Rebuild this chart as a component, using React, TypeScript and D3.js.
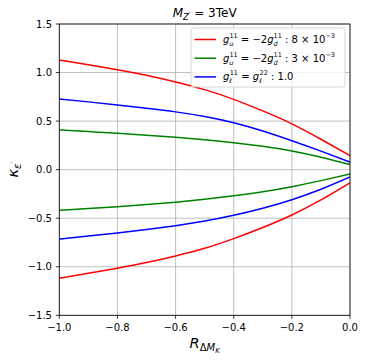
import React from "react";
import * as d3 from "d3";

// R_{ΔM_K} sample points
const rValues = [-1.0, -0.9, -0.8, -0.7, -0.6, -0.5, -0.4, -0.3, -0.2, -0.1, 0.0];

// kappa_eps', upper (+) and lower (-) branches
const redUpper = [1.13, 1.08, 1.03, 0.972, 0.903, 0.824, 0.724, 0.605, 0.472, 0.313, 0.145];
const redLower = [-1.118, -1.068, -1.015, -0.957, -0.889, -0.81, -0.71, -0.596, -0.467, -0.312, -0.136];
const greenUpper = [0.409, 0.392, 0.375, 0.355, 0.333, 0.308, 0.278, 0.24, 0.192, 0.128, 0.052];
const greenLower = [-0.418, -0.4, -0.381, -0.36, -0.336, -0.306, -0.27, -0.228, -0.175, -0.113, -0.044];
const blueUpper = [0.728, 0.698, 0.666, 0.632, 0.595, 0.547, 0.483, 0.398, 0.298, 0.191, 0.078];
const blueLower = [-0.714, -0.684, -0.652, -0.616, -0.577, -0.53, -0.47, -0.398, -0.31, -0.202, -0.075];

const xTicks = [-1.0, -0.8, -0.6, -0.4, -0.2, 0.0];
const yTicks = [-1.5, -1.0, -0.5, 0.0, 0.5, 1.0, 1.5];

const series = [
  { color: "#ff0000", values: [redUpper, redLower] },
  { color: "#008000", values: [greenUpper, greenLower] },
  { color: "#0000ff", values: [blueUpper, blueLower] },
];

const legendRows = [
  { color: "#ff0000", val: "8", kind: "ud" },
  { color: "#008000", val: "3", kind: "ud" },
  { color: "#0000ff", val: "1.0", kind: "l" },
];

const W = 366;
const H = 361;
const font = "DejaVu Sans, sans-serif";

const fmt = (v: number) => d3.format(".1f")(v).replace("-", "\u2212");

// g with stacked subscript (drawn first) and superscript; ends on the baseline
function G({ sup, sub, subW }: { sup: string; sub: string; subW: number }) {
  return (
    <>
      <tspan fontStyle="italic">g</tspan>
      <tspan fontSize={6.5} dy={3} fontStyle="italic">{sub}</tspan>
      <tspan fontSize={6.5} dx={-subW} dy={-8}>{sup}</tspan>
    </>
  );
}

export default function App() {
  const x = d3.scaleLinear().domain([-1, 0]).range([59.3, 350]);
  const y = d3.scaleLinear().domain([-1.5, 1.5]).range([315.3, 24]);

  const line = d3
    .line<number>()
    .x((_, i) => x(rValues[i]))
    .y((d) => y(d))
    .curve(d3.curveNatural);

  const [x0, x1] = x.range();
  const [y0, y1] = y.range();

  return (
    <div style={{ position: "absolute", left: 0, top: 0 }}>
      <svg width={W} height={H} style={{ display: "block", fontFamily: font }}>
        <rect width={W} height={H} fill="#fff" />
        <defs>
          <clipPath id="plotclip">
            <rect x={x0} y={y1} width={x1 - x0} height={y0 - y1} />
          </clipPath>
        </defs>

        {/* grid */}
        {xTicks.map((t) => (
          <line key={"gx" + t} x1={x(t)} x2={x(t)} y1={y1} y2={y0} stroke="#b0b0b0" strokeWidth={0.8} />
        ))}
        {yTicks.map((t) => (
          <line key={"gy" + t} x1={x0} x2={x1} y1={y(t)} y2={y(t)} stroke="#b0b0b0" strokeWidth={0.8} />
        ))}

        {/* curves */}
        <g clipPath="url(#plotclip)">
          {series.map((s) =>
            s.values.map((vals, j) => (
              <path key={s.color + j} d={line(vals) || ""} fill="none" stroke={s.color} strokeWidth={1.5} />
            ))
          )}
        </g>

        {/* frame */}
        <rect x={x0} y={y1} width={x1 - x0} height={y0 - y1} fill="none" stroke="#000" strokeWidth={0.8} />

        {/* ticks */}
        {xTicks.map((t) => (
          <g key={"tx" + t}>
            <line x1={x(t)} x2={x(t)} y1={y0} y2={y0 + 3.5} stroke="#000" strokeWidth={0.8} />
            <text x={x(t)} y={331} fontSize={10} textAnchor="middle">
              {fmt(t)}
            </text>
          </g>
        ))}
        {yTicks.map((t) => (
          <g key={"ty" + t}>
            <line x1={x0 - 3.5} x2={x0} y1={y(t)} y2={y(t)} stroke="#000" strokeWidth={0.8} />
            <text x={52} y={y(t) + 3.6} fontSize={10} textAnchor="end">
              {fmt(t)}
            </text>
          </g>
        ))}

        {/* title */}
        <text x={(x0 + x1) / 2} y={17.3} fontSize={12} textAnchor="middle">
          <tspan fontStyle="italic">M</tspan>
          <tspan fontSize={8.5} dy={2.5} fontStyle="italic">Z</tspan>
          <tspan fontSize={7} dy={-3}>{"\u2032"}</tspan>
          <tspan dy={0.5}>{" = 3TeV"}</tspan>
        </text>

        {/* x label */}
        <text x={(x0 + x1) / 2} y={348} fontSize={14.5} textAnchor="middle">
          <tspan fontStyle="italic">R</tspan>
          <tspan fontSize={10} dy={3}>Δ</tspan>
          <tspan fontSize={10} fontStyle="italic">M</tspan>
          <tspan fontSize={7} dy={2} fontStyle="italic">K</tspan>
        </text>

        {/* y label */}
        <text transform={`translate(18,${(y0 + y1) / 2}) rotate(-90)`} fontSize={14.5} textAnchor="middle">
          <tspan fontStyle="italic">κ</tspan>
          <tspan fontSize={10} dy={3} fontStyle="italic">ε</tspan>
          <tspan fontSize={7} dy={-5}>{"\u2032"}</tspan>
        </text>

        {/* legend */}
        <rect x={191} y={28} width={154} height={59} rx={2.5} fill="#fff" fillOpacity={0.8} stroke="#cccccc" strokeWidth={0.8} />
        {legendRows.map((r, i) => {
          const ly = 39.5 + i * 18.7;
          return (
            <g key={"lg" + i}>
              <line x1={194.5} x2={216} y1={ly} y2={ly} stroke={r.color} strokeWidth={1.5} />
              {r.kind === "ud" ? (
                <text x={223} y={ly + 3.5} fontSize={10}>
                  <G sup="11" sub="u" subW={4.1} />
                  <tspan dy={5}>{" = \u22122"}</tspan>
                  <G sup="11" sub="d" subW={4.1} />
                  <tspan dy={5}>{" : " + r.val + " \u00d7 10"}</tspan>
                  <tspan fontSize={6.5} dy={-5}>{"\u22123"}</tspan>
                </text>
              ) : (
                <text x={223} y={ly + 3.5} fontSize={10}>
                  <G sup="11" sub="ℓ" subW={2.3} />
                  <tspan dy={5}>{" = "}</tspan>
                  <G sup="22" sub="ℓ" subW={2.3} />
                  <tspan dy={5}>{" : 1.0"}</tspan>
                </text>
              )}
            </g>
          );
        })}
      </svg>
    </div>
  );
}
